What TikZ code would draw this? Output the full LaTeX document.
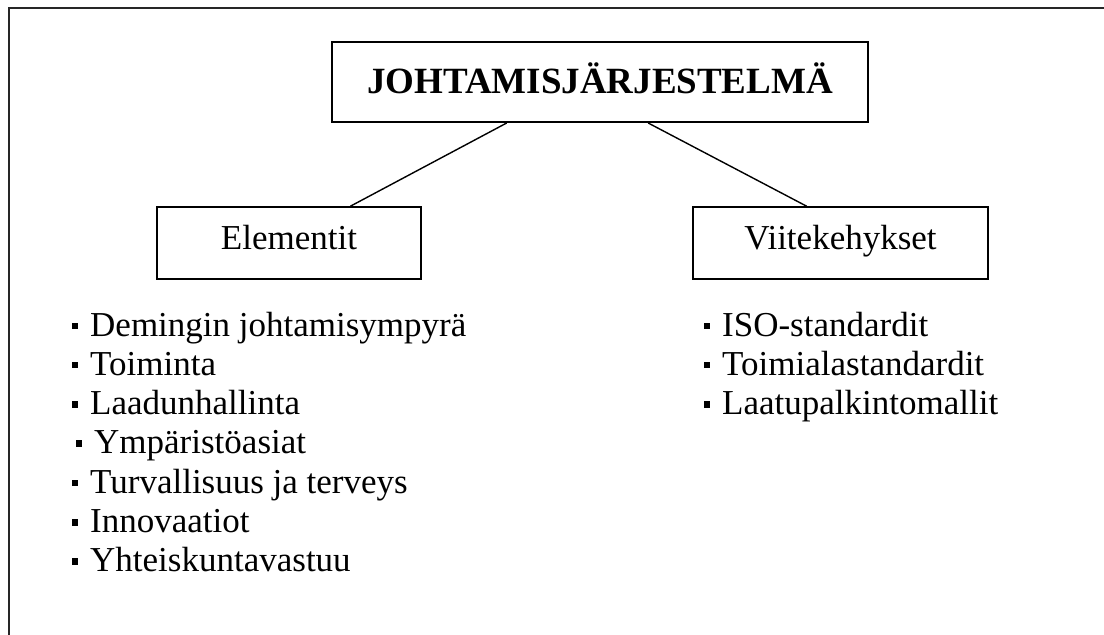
\documentclass[tikz,border=0pt]{standalone}
\usepackage{fontspec}
\setmainfont{Liberation Serif}
\usetikzlibrary{calc}
\newcommand\sqbul{\rule[7pt]{5.5pt}{6.5pt}\hspace{12.5pt}}
\begin{document}
\begin{tikzpicture}[x=1pt,y=-1pt,
  frameline/.style={line width=2pt, black!85},
  bigbox/.style={draw, line width=2pt, inner sep=0pt, minimum width=536pt,
    text height=51pt, text depth=29pt, font=\fontsize{37}{40}\selectfont\bfseries},
  subbox/.style={draw, line width=1.5pt, inner sep=0pt,
    text height=42pt, text depth=30pt, font=\fontsize{35}{38}\selectfont},
  item/.style={anchor=base west, inner sep=0pt, font=\fontsize{35}{38}\selectfont},
  link/.style={line width=1.4pt}]
\useasboundingbox (0,0) rectangle (1104,635);
\draw[frameline] (9,640) -- (9,8) -- (1110,8);
\node[bigbox] (top) at (600,82) {JOHTAMISJÄRJESTELMÄ};
\node[subbox, minimum width=264pt] (elem) at (289,243) {Elementit};
\node[subbox, minimum width=295pt] (viite) at (840.5,243) {Viitekehykset};
\draw[link] ($(top.south west)!0.3265!(top.south east)$) -- ($(elem.north west)!0.731!(elem.north east)$);
\draw[link] ($(top.south west)!0.5896!(top.south east)$) -- ($(viite.north west)!0.386!(viite.north east)$);
\node[item] (l1) at (72,336) {\sqbul Demingin johtamisympyrä};
\node[item] (l2) at (72,375.3) {\sqbul Toiminta};
\node[item] (l3) at (72,414.6) {\sqbul Laadunhallinta};
\node[item] (l4) at (76,453.9) {\sqbul Ympäristöasiat};
\node[item] (l5) at (72,493.2) {\sqbul Turvallisuus ja terveys};
\node[item] (l6) at (72,532.5) {\sqbul Innovaatiot};
\node[item] (l7) at (72,571.8) {\sqbul Yhteiskuntavastuu};
\node[item] (r1) at (704,336) {\sqbul ISO-standardit};
\node[item] (r2) at (704,375.3) {\sqbul Toimialastandardit};
\node[item] (r3) at (704,414.6) {\sqbul Laatupalkintomallit};
\end{tikzpicture}
\end{document}
